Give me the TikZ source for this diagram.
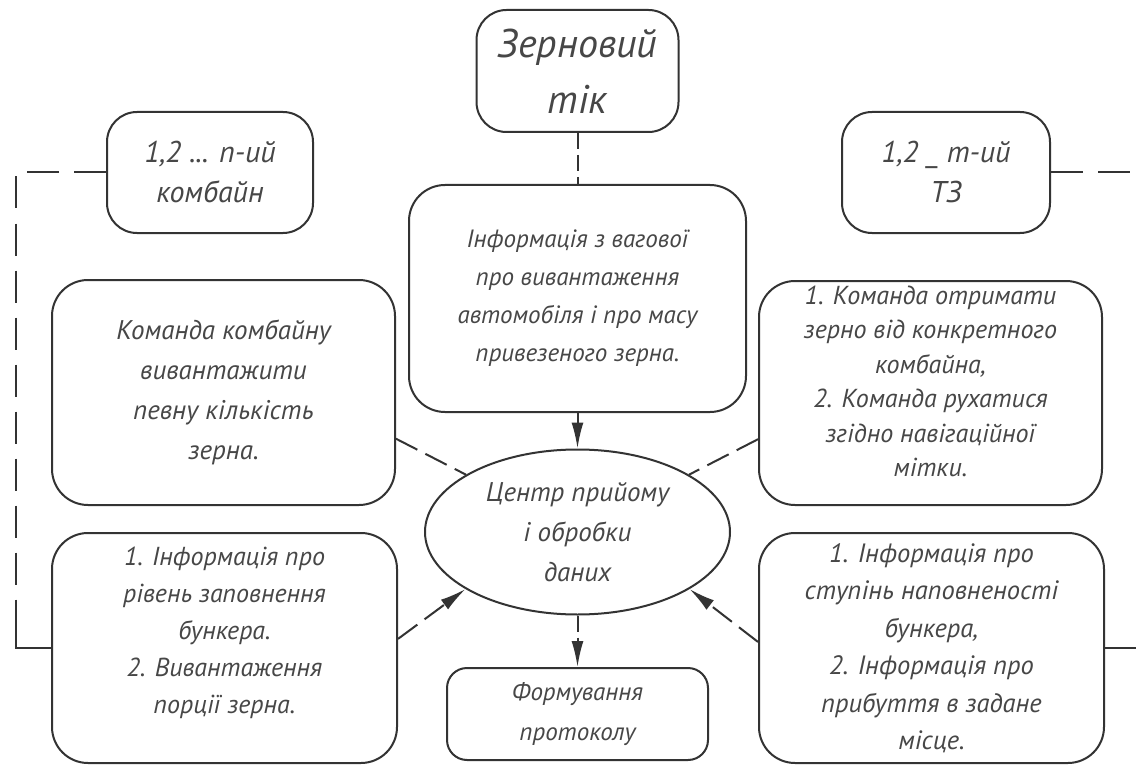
\documentclass[tikz,border=0pt]{standalone}
\usepackage{fontspec}
\setmainfont{PT Sans}
\usetikzlibrary{arrows.meta,shapes.geometric}
\definecolor{lc}{HTML}{333333}
\definecolor{tc}{HTML}{474747}
\newcommand\myfs[2]{\fontsize{#1}{#2}\selectfont\itshape}
\begin{document}
\begin{tikzpicture}[x=1pt,y=-1pt,
  box/.style={draw=lc, line width=2pt, rounded corners=36pt, align=center, inner sep=0pt, text=tc},
  txt/.style={align=center, inner sep=0pt, text=tc},
  ellbox/.style={ellipse, draw=lc, line width=2pt, align=center, inner sep=0pt, text=tc},
  con/.style={draw=lc, line width=2pt, dash pattern=on 24pt off 9pt},
  vcon/.style={draw=lc, line width=2pt, dash pattern=on 16pt off 6pt},
  rail/.style={draw=lc, line width=2pt, dash pattern=on 32pt off 15pt},
  solidline/.style={draw=lc, line width=2pt},
  arr/.style={-{Latex[length=26pt,width=12pt]}}
]
\useasboundingbox[fill=white] (0,0) rectangle (1136,765);

% boxes
\node[box, rounded corners=30pt, minimum width=202pt, minimum height=122pt, font=\myfs{40}{56}] (top) at (577.5,71) {Зерновий\\тік};
\node[box, rounded corners=30pt, minimum width=206pt, minimum height=121pt, font=\myfs{30}{40}] (comb) at (210,172.5) {1,2 ... n-ий\\комбайн};
\node[box, rounded corners=30pt, minimum width=208pt, minimum height=121pt, font=\myfs{30}{40}] (tz) at (946,172.5) {1,2 \_ m-ий\\ТЗ};
\node[box, minimum width=337pt, minimum height=227pt, font=\myfs{25}{38}] (info) at (577.5,298.5) {Інформація з вагової\\про вивантаження\\автомобіля і про масу\\привезеного зерна.};
\node[box, minimum width=343pt, minimum height=225pt, font=\myfs{27}{40}] (lu) at (223.5,392.5) {Команда комбайну\\вивантажити\\певну кількість\\зерна.};
\node[box, minimum width=343pt, minimum height=224pt] (ru) at (930.5,393) {};
\node[txt, font=\myfs{26}{34.5}] (ruT) at (930.5,381.5) {1. Команда отримати\\зерно від конкретного\\комбайна,\\2. Команда рухатися\\згідно навігаційної\\мітки.};
\node[ellbox, minimum width=305pt, minimum height=165pt, font=\myfs{27}{40}] (ell) at (577.5,532) {Центр прийому\\і обробки\\даних};
\node[box, minimum width=345pt, minimum height=230pt] (bl) at (224.5,648) {};
\node[txt, font=\myfs{26}{37}] (blT) at (224.5,632.5) {1. Інформація про\\рівень заповнення\\бункера.\\2. Вивантаження\\порції зерна.};
\node[box, minimum width=345pt, minimum height=230pt, font=\myfs{26.5}{37.5}] (br) at (931.5,648) {1. Інформація про\\ступінь наповненості\\бункера,\\2. Інформація про\\прибуття в задане\\місце.};
\node[box, rounded corners=20pt, minimum width=261pt, minimum height=92pt, font=\myfs{25}{40}] (proto) at (577.5,714) {Формування\\протоколу};

% connectors
\draw[vcon] (top.south) -- (info.north);
\draw[vcon, arr] (info.south) -- (ell.north);
\draw[vcon, arr] (ell.south) -- (proto.north);
\draw[con] (lu.-15) -- (ell);
\draw[con] (ru.195) -- (ell);
\draw[con, arr] (bl.3) -- (ell.207);
\draw[con, arr] (br.178) -- (ell.-27);

% rails
\coordinate (r1) at (16,172.5);
\coordinate (r2) at (16,615);
\coordinate (r3) at (16,648);
\draw[rail] (comb.west) -- (r1) -- (r2);
\draw[solidline] (r2) -- (r3) -- (bl.west);
\coordinate (r4) at (1136,172.5);
\draw[rail] (tz.east) -- (r4);
\coordinate (r5) at (1136,648);
\draw[solidline] (br.east) -- (r5);
\end{tikzpicture}
\end{document}
